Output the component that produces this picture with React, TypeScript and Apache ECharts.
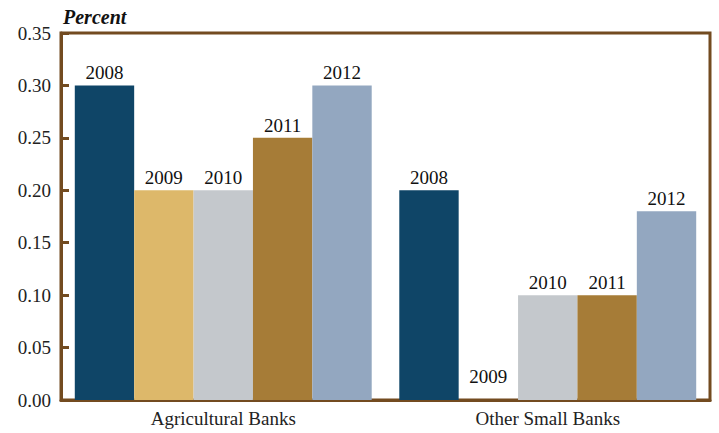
import React, { useEffect, useRef } from "react";
import * as echarts from "echarts";

const categories = ["Agricultural Banks", "Other Small Banks"];
const years = ["2008", "2009", "2010", "2011", "2012"];
const values2008 = [0.3, 0.2];
const values2009 = [0.2, 0.0];
const values2010 = [0.2, 0.1];
const values2011 = [0.25, 0.1];
const values2012 = [0.3, 0.18];
const seriesValues = [values2008, values2009, values2010, values2011, values2012];
const colors = ["#0f4567", "#ddb86a", "#c4c8cc", "#a67c37", "#93a7c0"];
const yTicks = ["0.00", "0.05", "0.10", "0.15", "0.20", "0.25", "0.30", "0.35"];

const FONT = "'Liberation Serif', 'DejaVu Serif', serif";
const BROWN = "#734b20";

export default function App() {
  const ref = useRef<HTMLDivElement>(null);
  useEffect(() => {
    if (!ref.current) return;
    const chart = echarts.init(ref.current, null, { renderer: "svg" });
    chart.setOption({
      animation: false,
      title: {
        text: "Percent",
        left: 58,
        top: 2,
        textStyle: { fontFamily: FONT, fontStyle: "italic", fontWeight: "bold", fontSize: 20, color: "#111" },
      },
      grid: {
        left: 61,
        right: 9,
        top: 33,
        bottom: 33,
        show: true,
        borderColor: BROWN,
        borderWidth: 3,
        backgroundColor: "transparent",
      },
      xAxis: {
        type: "category",
        data: categories,
        axisLine: { lineStyle: { color: BROWN, width: 3 } },
        axisTick: { show: false },
        axisLabel: { fontFamily: FONT, fontSize: 19, color: "#222", margin: 9 },
      },
      yAxis: {
        type: "value",
        min: 0,
        max: 0.35,
        interval: 0.05,
        axisLine: { show: true, lineStyle: { color: BROWN, width: 3 } },
        axisTick: { show: true, inside: true, length: 8, lineStyle: { color: BROWN, width: 3 } },
        splitLine: { show: false },
        axisLabel: {
          fontFamily: FONT,
          fontSize: 19,
          color: "#222",
          margin: 10,
          formatter: (v: number) => yTicks[Math.round(v / 0.05)] ?? v.toFixed(2),
        },
      },
      series: seriesValues.map((vals, i) => ({
        type: "bar",
        name: years[i],
        barGap: "0%",
        barCategoryGap: "8.5%",
        itemStyle: { color: colors[i] },
        label: {
          show: true,
          position: "top",
          distance: 3,
          formatter: years[i],
          fontFamily: FONT,
          fontSize: 19,
          color: "#111",
        },
        data: vals.map((v) =>
          v === 0 ? { value: v, label: { distance: 14 } } : { value: v }
        ),
      })),
    });
    return () => chart.dispose();
  }, []);
  return (
    <div
      ref={ref}
      style={{ position: "absolute", left: 0, top: 0, width: 719, height: 433 }}
    />
  );
}
